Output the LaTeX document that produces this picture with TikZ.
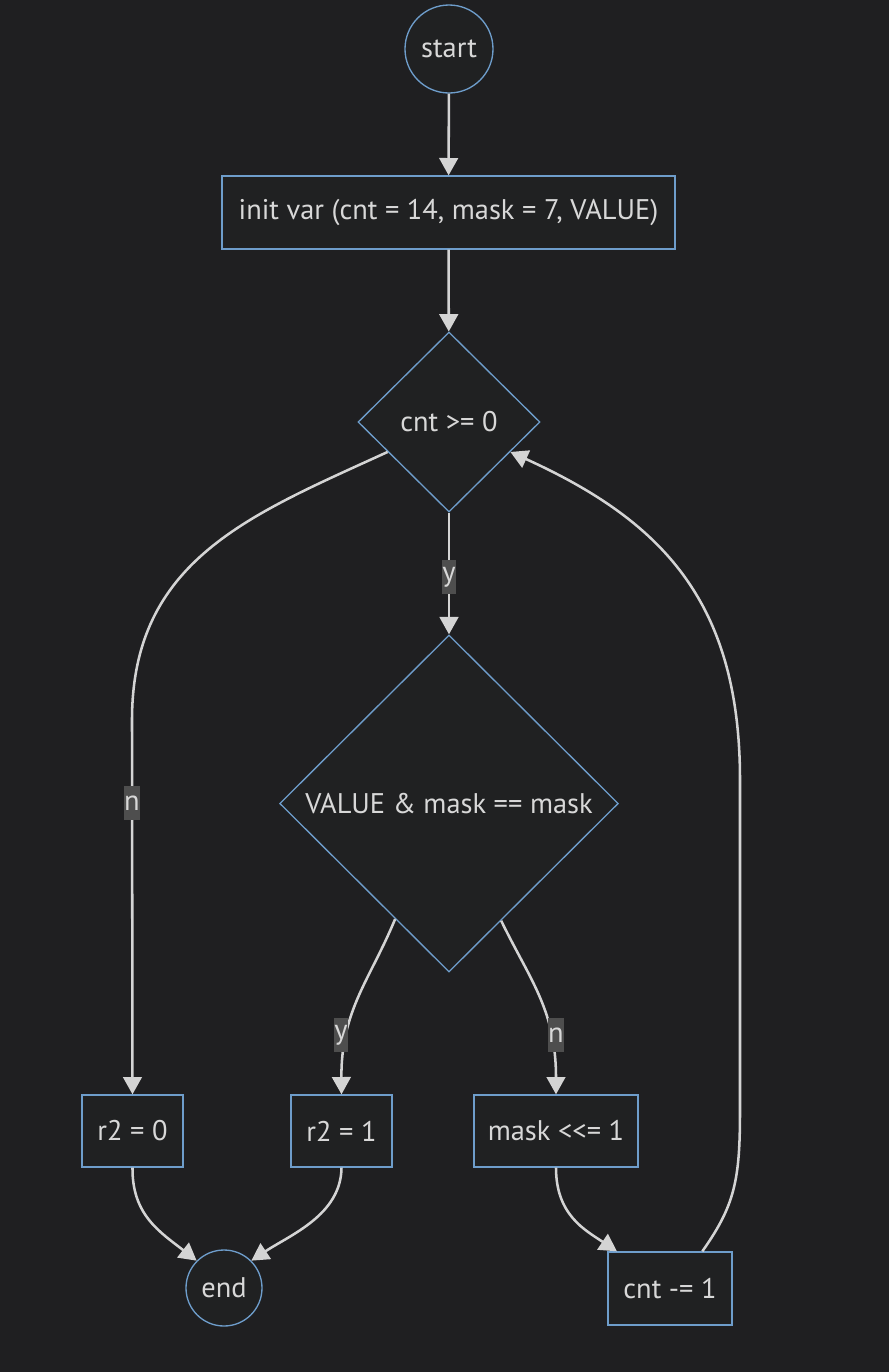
\documentclass[tikz,border=0pt]{standalone}
\usepackage{fontspec}
\setmainfont{PT Sans}
\usetikzlibrary{shapes.geometric,arrows.meta}
\definecolor{bgc}{HTML}{1F1F21}
\definecolor{nfill}{HTML}{202122}
\definecolor{nstroke}{HTML}{6E9DCB}
\definecolor{edgec}{HTML}{D4D4D4}
\definecolor{txtc}{HTML}{D8D8D8}
\definecolor{lblbg}{HTML}{4E4E4E}
\tikzset{
  base/.style={draw=nstroke, fill=nfill, line width=1pt, text=txtc, font=\fontsize{21.3}{25}\selectfont, inner sep=0pt},
  boxn/.style={base, rectangle},
  circn/.style={base, circle},
  dia/.style={base, diamond, aspect=1},
  edge/.style={draw=edgec, line width=1.9pt, -{Triangle[length=13pt,width=14pt]}},
  lbl/.style={fill=lblbg, text=txtc, font=\fontsize{21.3}{25}\selectfont, inner sep=0.5pt, minimum height=25pt}
}
\begin{document}
\begin{tikzpicture}[x=0.75pt,y=-0.75pt]
\fill[bgc] (0,0) rectangle (889,1372);
\useasboundingbox (0,0) rectangle (889,1372);
\node[circn, minimum size=66pt] (start) at (449,49) {start};
\node[boxn, minimum width=339.75pt, minimum height=54.75pt] (init) at (448.5,212.5) {init var (cnt = 14, mask = 7, VALUE)};
\node[dia, minimum width=136.5pt, minimum height=135pt] (d1) at (449,422) {cnt >= 0};
\node[dia, minimum width=254pt, minimum height=252.75pt] (d2) at (449,803.5) {VALUE \& mask == mask};
\node[boxn, minimum width=75.75pt, minimum height=54pt] (r0) at (132.5,1131) {r2 = 0};
\node[boxn, minimum width=75.75pt, minimum height=54pt] (r1) at (341.5,1131) {r2 = 1};
\node[boxn, minimum width=123pt, minimum height=54pt] (mk) at (556,1131) {mask <\kern0pt<\kern0pt= 1};
\node[circn, minimum size=57pt] (end) at (224,1288) {end};
\node[boxn, minimum width=93pt, minimum height=54.75pt] (cn) at (670,1288.5) {cnt -\kern0pt= 1};

\draw[edge] (start) -- (init);
\draw[edge] (init) -- (d1);
\draw[edge] (d1) -- (d2);
\draw[edge] (d1.206) .. controls (250,515) and (132,560) .. (132,720) -- (r0.north);
\draw[edge] (d2.245.6) .. controls (370,980) and (341,1010) .. (r1.north);
\draw[edge] (d2.294.5) .. controls (530,980) and (556,1010) .. (mk.north);
\draw[edge] (r0.south) .. controls (132,1215) and (160,1232) .. (end.135);
\draw[edge] (r1.south) .. controls (341,1215) and (290,1235) .. (end.45);
\draw[edge] (mk.south) .. controls (556,1215) and (585,1230) .. (cn.145);
\draw[edge] (cn.49) .. controls (735,1205) and (740,1180) .. (740,1110) -- (740,780) .. controls (740,600) and (660,520) .. (d1.334);

\node[lbl] (ly1) at (449,577) {y};
\node[lbl] (ln1) at (132,803) {n};
\node[lbl] (ly2) at (341,1035) {y};
\node[lbl] (ln2) at (556,1035) {n};
\end{tikzpicture}
\end{document}
